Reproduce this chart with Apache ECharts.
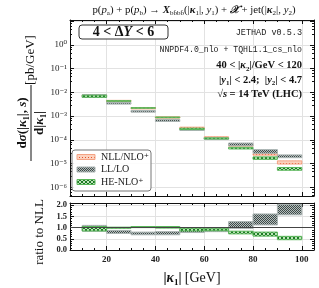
<!DOCTYPE html>
<html><head><meta charset="utf-8">
<script src="https://cdn.jsdelivr.net/npm/echarts@6/dist/echarts.min.js"></script>
<style>html,body{margin:0;padding:0;background:#fff}#c{width:319px;height:288px}</style>
</head><body><div id="c"></div>
<script>
// ---- data ----
const binLow  = [10, 20, 30, 40, 50, 60, 70, 80, 90];
const binHigh = [20, 30, 40, 50, 60, 70, 80, 90, 100];
// main panel bands [pb/GeV]
const nllLow  = [6.7e-3, 4.1e-3, 2.0e-3, 8.2e-4, 3.0e-4, 1.19e-4, 5.4e-5, 2.25e-5, 9.5e-6];
const nllHigh = [7.7e-3, 4.6e-3, 2.3e-3, 9.3e-4, 3.4e-4, 1.34e-4, 6.1e-5, 2.6e-5, 1.29e-5];
const llLow   = [6.1e-3, 3.2e-3, 1.46e-3, 5.9e-4, 2.47e-4, 1.03e-4, 5.6e-5, 2.7e-5, 1.76e-5];
const llHigh  = [8.0e-3, 3.75e-3, 1.71e-3, 7.1e-4, 2.9e-4, 1.2e-4, 7.3e-5, 3.85e-5, 2.3e-5];
const heLow   = [6.2e-3, 4.2e-3, 2.14e-3, 8.5e-4, 2.7e-4, 1.08e-4, 4.1e-5, 1.5e-5, 5.2e-6];
const heHigh  = [7.6e-3, 4.45e-3, 2.25e-3, 9.1e-4, 3.07e-4, 1.2e-4, 4.8e-5, 1.9e-5, 6.8e-6];
// ratio panel bands (to NLL)
const llRatioLow  = [0.84, 0.74, 0.68, 0.68, 0.78, 0.82, 0.97, 1.12, 1.57];
const llRatioHigh = [1.10, 0.875, 0.80, 0.82, 0.92, 0.95, 1.27, 1.61, 2.04];
const heRatioLow  = [0.85, 0.97, 1.00, 0.98, 0.85, 0.86, 0.72, 0.62, 0.46];
const heRatioHigh = [1.05, 1.02, 1.05, 1.05, 0.97, 0.95, 0.84, 0.80, 0.61];
// ticks
const xTicks = [20, 40, 60, 80, 100];
const yTickExps = [0, -1, -2, -3, -4, -5, -6];
const ratioTicks = [0, 0.5, 1, 1.5, 2];
const legendNames = ['NLL/NLO⁺', 'LL/LO', 'HE-NLO⁺'];

// ---- styling helpers ----
const SERIF = '"Liberation Serif","DejaVu Serif",serif';
const MONO = '"Liberation Mono","DejaVu Sans Mono",monospace';
function makeTile(size, bg, fg, pts) {
  const c = document.createElement('canvas'); c.width = c.height = size;
  const g = c.getContext('2d'); g.fillStyle = bg; g.fillRect(0, 0, size, size);
  g.fillStyle = fg; pts.forEach(p => g.fillRect(p[0], p[1], 1, 1)); return c;
}
const nllTile = makeTile(3, '#fbd2bf', '#e4512a', [[1, 1]]);
const llTile = makeTile(2, '#b4bdbc', '#3e4a48', [[0, 0], [1, 1]]);
const heTile = makeTile(4, '#bfe3bb', '#1d7a25', [[0,0],[1,1],[2,2],[3,3],[3,0],[2,1],[1,2],[0,3]]);
const styles = [
  { fill: { image: nllTile, repeat: 'repeat' }, stroke: '#f4a384' },
  { fill: { image: llTile, repeat: 'repeat' }, stroke: '#aab4b3' },
  { fill: { image: heTile, repeat: 'repeat' }, stroke: '#58b658' }
];
const sup = { '0': '⁰', '1': '¹', '2': '²', '3': '³', '4': '⁴', '5': '⁵', '6': '⁶', '-': '⁻' };

function bandSeries(name, lo, hi, st, xi, yi) {
  return {
    type: 'custom', name: name, xAxisIndex: xi, yAxisIndex: yi, clip: true,
    data: binLow.map((b, i) => [binLow[i], binHigh[i], lo[i], hi[i]]),
    encode: { x: [0, 1], y: [2, 3] },
    renderItem: function (params, api) {
      const p1 = api.coord([api.value(0), api.value(3)]);
      const p2 = api.coord([api.value(1), api.value(2)]);
      return { type: 'rect', shape: { x: p1[0], y: p1[1], width: p2[0] - p1[0], height: p2[1] - p1[1] },
        style: { fill: st.fill, stroke: st.stroke, lineWidth: 1 } };
    }
  };
}

const gridLine = { show: true, lineStyle: { color: '#e2e2e2', width: 1 } };
const frameLine = { show: true, onZero: false, lineStyle: { color: '#111', width: 1 } };
function xAx(gi, pos, labels) {
  return { type: 'value', gridIndex: gi, position: pos, min: 5, max: 105,
    axisLine: frameLine, axisTick: { show: true, inside: true, length: 4, lineStyle: { color: '#111' } },
    minorTick: { show: true, splitNumber: 4, length: 2, lineStyle: { color: '#111' } },
    splitLine: pos === 'bottom' ? gridLine : { show: false },
    axisLabel: { show: labels, margin: 5, fontFamily: SERIF, fontSize: 9, fontWeight: 'bold', color: '#222',
      formatter: v => (xTicks.indexOf(v) >= 0 ? String(v) : '') } };
}
const logMin = Math.pow(10, -6.37), logMax = Math.pow(10, 1.05);
function yLog(pos, labels) {
  return { type: 'log', logBase: 10, gridIndex: 0, position: pos, min: logMin, max: logMax,
    axisLine: frameLine, axisTick: { show: true, inside: true, length: 4, lineStyle: { color: '#111' } },
    minorTick: { show: true, splitNumber: 5, length: 2, lineStyle: { color: '#111' } },
    splitLine: pos === 'left' ? gridLine : { show: false },
    axisLabel: { show: labels, margin: 3, fontFamily: SERIF, fontSize: 9, color: '#222',
      formatter: function (v) {
        const e = Math.log10(v), r = Math.round(e);
        if (Math.abs(e - r) > 0.01 || yTickExps.indexOf(r) < 0) return '';
        return '10' + String(r).split('').map(ch => sup[ch]).join('');
      } } };
}
function yRatio(pos, labels) {
  return { type: 'value', gridIndex: 1, position: pos, min: 0, max: 2.1, interval: 0.5,
    axisLine: frameLine, axisTick: { show: true, inside: true, length: 4, lineStyle: { color: '#111' } },
    minorTick: { show: true, splitNumber: 5, length: 2, lineStyle: { color: '#111' } },
    splitLine: pos === 'left' ? gridLine : { show: false },
    axisLabel: { show: labels, margin: 3, fontFamily: SERIF, fontSize: 8.5, fontWeight: 'bold', color: '#222',
      formatter: v => (ratioTicks.indexOf(v) >= 0 ? v.toFixed(1) : '') } };
}

const chart = echarts.init(document.getElementById('c'));
const legendY = [157, 169.5, 182];
const legendEls = [];
legendEls.push({ type: 'rect', shape: { x: 72, y: 150, width: 79, height: 41, r: 3 },
  style: { fill: 'rgba(255,255,255,0.9)', stroke: '#777', lineWidth: 1 }, z: 100 });
legendNames.forEach((n, i) => {
  legendEls.push({ type: 'rect', shape: { x: 77, y: legendY[i] - 2.5, width: 18, height: 5 },
    style: { fill: styles[i].fill, stroke: styles[i].stroke, lineWidth: 1 }, z: 101 });
  legendEls.push({ type: 'text', x: 101, y: legendY[i], z: 101,
    style: { text: n, font: '10px ' + SERIF, fill: '#222', verticalAlign: 'middle', align: 'left' } });
});

const kappa = 'κ';
chart.setOption({
  animation: false,
  grid: [
    { left: 70, right: 5, top: 20, height: 176 },
    { left: 70, right: 5, top: 203, height: 47 }
  ],
  xAxis: [xAx(0, 'bottom', false), xAx(0, 'top', false), xAx(1, 'bottom', true), xAx(1, 'top', false)],
  yAxis: [yLog('left', true), yLog('right', false), yRatio('left', true), yRatio('right', false)],
  series: [
    bandSeries(legendNames[0], nllLow, nllHigh, styles[0], 0, 0),
    bandSeries(legendNames[1], llLow, llHigh, styles[1], 0, 0),
    bandSeries(legendNames[2], heLow, heHigh, styles[2], 0, 0),
    Object.assign(bandSeries(legendNames[1], llRatioLow, llRatioHigh, styles[1], 2, 2), {
      markLine: { silent: true, symbol: 'none', label: { show: false },
        lineStyle: { color: '#444', width: 1, type: 'solid' }, data: [{ yAxis: 1 }] } }),
    bandSeries(legendNames[2], heRatioLow, heRatioHigh, styles[2], 2, 2)
  ],
  graphic: [
    { type: 'text', x: 194, y: 10, style: { align: 'center', verticalAlign: 'middle',
      text: '{r|p(}{i|p}{s|a}{r|) + p(}{i|p}{s|b}{r|) → }{ib|X}{s|bb̄bb̄}{r|(|}{ib|' + kappa + '}{s|1}{r||, }{i|y}{s|1}{r|) + }{ib|𝒳}{r| + jet(|}{ib|' + kappa + '}{s|2}{r||, }{i|y}{s|2}{r|)}',
      rich: {
        r: { font: '10.8px ' + SERIF, fill: '#111', lineHeight: 14 },
        i: { font: 'italic 10.8px ' + SERIF, fill: '#111', lineHeight: 14 },
        ib: { font: 'italic bold 10.8px ' + SERIF, fill: '#111', lineHeight: 14 },
        s: { font: '7px ' + SERIF, fill: '#111', verticalAlign: 'bottom', lineHeight: 10 }
      } } },
    { type: 'rect', shape: { x: 79, y: 25, width: 89, height: 14, r: 3 }, z: 100,
      style: { fill: '#fff', stroke: '#333', lineWidth: 1 } },
    { type: 'text', x: 123.5, y: 32.5, z: 101, style: { align: 'center', verticalAlign: 'middle',
      text: '{b|4 < Δ}{bi|Y}{b| < 6}',
      rich: { b: { font: 'bold 14px ' + SERIF, fill: '#111' }, bi: { font: 'italic bold 14px ' + SERIF, fill: '#111' } } } },
    { type: 'text', x: 302, y: 33, z: 101, style: { align: 'right', verticalAlign: 'middle', text: 'JETHAD v0.5.3', font: '8.5px ' + MONO, fill: '#222' } },
    { type: 'text', x: 302, y: 50, z: 101, style: { align: 'right', verticalAlign: 'middle', text: 'NNPDF4.0_nlo + TQHL1.1_cs_nlo', font: '8.2px ' + MONO, fill: '#222' } },
    { type: 'text', x: 302, y: 65.5, z: 101, style: { align: 'right', verticalAlign: 'middle',
      text: '{b|40 < |}{bi|' + kappa + '}{s|2}{b||/GeV < 120}',
      rich: { b: { font: 'bold 10.5px ' + SERIF, fill: '#111', lineHeight: 14 }, bi: { font: 'italic bold 10.5px ' + SERIF, fill: '#111', lineHeight: 14 },
        s: { font: 'bold 7px ' + SERIF, fill: '#111', verticalAlign: 'bottom', lineHeight: 10 } } } },
    { type: 'text', x: 302, y: 80, z: 101, style: { align: 'right', verticalAlign: 'middle',
      text: '{b||}{bi|y}{s|1}{b|| < 2.4;  |}{bi|y}{s|2}{b|| < 4.7}',
      rich: { b: { font: 'bold 10.5px ' + SERIF, fill: '#111', lineHeight: 14 }, bi: { font: 'italic bold 10.5px ' + SERIF, fill: '#111', lineHeight: 14 },
        s: { font: 'bold 7px ' + SERIF, fill: '#111', verticalAlign: 'bottom', lineHeight: 10 } } } },
    { type: 'text', x: 302, y: 94, z: 101, style: { align: 'right', verticalAlign: 'middle',
      text: '{b|√}{bi|s}{b| = 14 TeV (LHC)}',
      rich: { b: { font: 'bold 10.5px ' + SERIF, fill: '#111', lineHeight: 14 }, bi: { font: 'italic bold 10.5px ' + SERIF, fill: '#111', lineHeight: 14 } } } },
    // main y title (rotated fraction)
    { type: 'group', x: 31, y: 101, rotation: Math.PI / 2, children: [
      { type: 'text', x: -22, y: -8, style: { align: 'center', verticalAlign: 'middle',
        text: '{b|d}{bi|σ}{b|(|}{bi|' + kappa + '}{s|1}{b||, }{bi|s}{b|)}',
        rich: { b: { font: 'bold 13px ' + SERIF, fill: '#111', lineHeight: 16 }, bi: { font: 'italic bold 13px ' + SERIF, fill: '#111', lineHeight: 16 },
          s: { font: 'bold 8px ' + SERIF, fill: '#111', verticalAlign: 'bottom', lineHeight: 12 } } } },
      { type: 'line', shape: { x1: -60, y1: 0, x2: 16, y2: 0 }, style: { stroke: '#111', lineWidth: 1 } },
      { type: 'text', x: -22, y: 9, style: { align: 'center', verticalAlign: 'middle',
        text: '{b|d|}{bi|' + kappa + '}{s|1}{b||}',
        rich: { b: { font: 'bold 13px ' + SERIF, fill: '#111', lineHeight: 16 }, bi: { font: 'italic bold 13px ' + SERIF, fill: '#111', lineHeight: 16 },
          s: { font: 'bold 8px ' + SERIF, fill: '#111', verticalAlign: 'bottom', lineHeight: 12 } } } },
      { type: 'text', x: 41, y: 0, style: { align: 'center', verticalAlign: 'middle', text: '[pb/GeV]', font: '13px ' + SERIF, fill: '#111' } }
    ] },
    { type: 'text', x: 40, y: 232, rotation: Math.PI / 2, style: { align: 'center', verticalAlign: 'middle', text: 'ratio to NLL', font: '13px ' + SERIF, fill: '#111' } },
    { type: 'text', x: 192, y: 278, style: { align: 'center', verticalAlign: 'middle',
      text: '{b||}{bi|' + kappa + '}{s|1}{b||} {r|[GeV]}',
      rich: { b: { font: 'bold 14px ' + SERIF, fill: '#111', lineHeight: 18 }, bi: { font: 'italic bold 14px ' + SERIF, fill: '#111', lineHeight: 18 },
        r: { font: '14px ' + SERIF, fill: '#111', lineHeight: 18 },
        s: { font: 'bold 9px ' + SERIF, fill: '#111', verticalAlign: 'bottom', lineHeight: 13 } } } }
  ].concat(legendEls)
});
</script></body></html>
